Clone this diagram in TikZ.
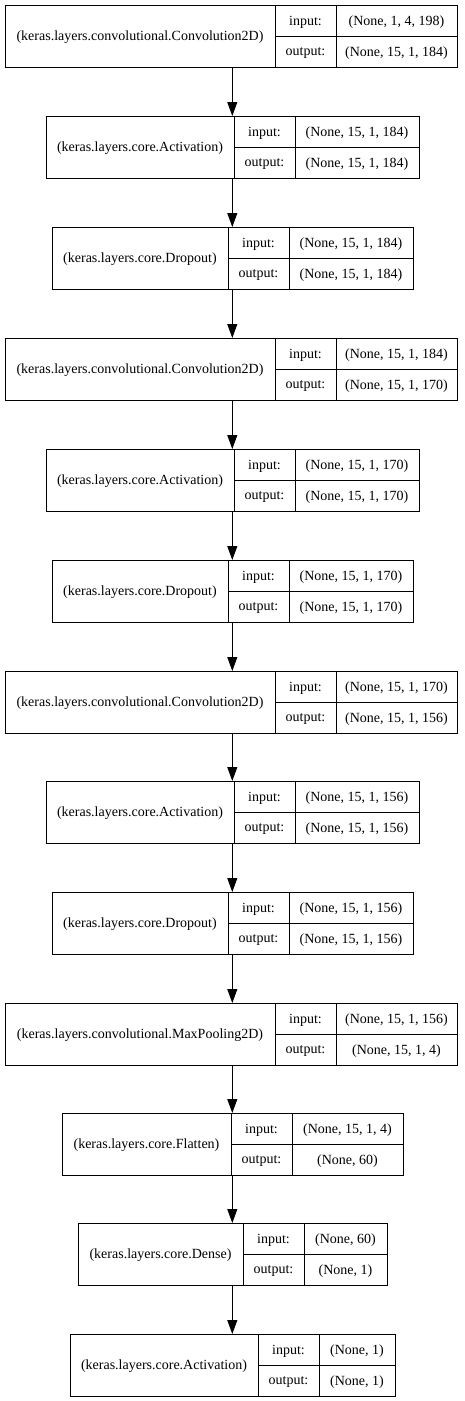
\documentclass[tikz,border=0pt]{standalone}
\usepackage{fontspec}
\setmainfont{Liberation Serif}
\usetikzlibrary{arrows.meta}
\newcommand{\kerasbox}[9]{%
  \node[box, minimum width={#4pt-#3pt}, anchor=north west] (#1) at (#3,#2) {};
  \draw[line] ({#5},{#2}) -- ({#5},{#2+62});
  \draw[line] ({#6},{#2}) -- ({#6},{#2+62});
  \draw[line] ({#5},{#2+31}) -- ({#4},{#2+31});
  \node[txt] (#1-name) at ({(#3+#5)/2},{#2+32.5}) {#7};
  \node[txt] (#1-inl) at ({(#5+#6)/2},{#2+17}) {input:};
  \node[txt] (#1-inv) at ({(#6+#4)/2},{#2+17}) {#8};
  \node[txt] (#1-outl) at ({(#5+#6)/2},{#2+48}) {output:};
  \node[txt] (#1-outv) at ({(#6+#4)/2},{#2+48}) {#9};
}
\begin{document}
\begin{tikzpicture}[x=1pt,y=-1pt,
  box/.style={draw, line width=1pt, minimum height=62pt, inner sep=0pt},
  line/.style={line width=1pt},
  txt/.style={inner sep=0pt, font=\fontsize{14}{16}\selectfont},
  conn/.style={line width=1pt, -{Triangle[length=14pt,width=10pt]}}]
\useasboundingbox (0,0) rectangle (465,1401);
\coordinate (ax) at (232.3,0);
\kerasbox{L1}{5}{5}{457}{275}{336}{(keras.layers.convolutional.Convolution2D)}{(None, 1, 4, 198)}{(None, 15, 1, 184)}
\kerasbox{L2}{116}{46}{419}{234}{295}{(keras.layers.core.Activation)}{(None, 15, 1, 184)}{(None, 15, 1, 184)}
\kerasbox{L3}{227}{52}{413}{228}{289}{(keras.layers.core.Dropout)}{(None, 15, 1, 184)}{(None, 15, 1, 184)}
\kerasbox{L4}{338}{5}{457}{275}{336}{(keras.layers.convolutional.Convolution2D)}{(None, 15, 1, 184)}{(None, 15, 1, 170)}
\kerasbox{L5}{449}{46}{419}{234}{295}{(keras.layers.core.Activation)}{(None, 15, 1, 170)}{(None, 15, 1, 170)}
\kerasbox{L6}{560}{52}{413}{228}{289}{(keras.layers.core.Dropout)}{(None, 15, 1, 170)}{(None, 15, 1, 170)}
\kerasbox{L7}{671}{5}{457}{275}{336}{(keras.layers.convolutional.Convolution2D)}{(None, 15, 1, 170)}{(None, 15, 1, 156)}
\kerasbox{L8}{781}{46}{419}{234}{295}{(keras.layers.core.Activation)}{(None, 15, 1, 156)}{(None, 15, 1, 156)}
\kerasbox{L9}{892}{52}{413}{228}{289}{(keras.layers.core.Dropout)}{(None, 15, 1, 156)}{(None, 15, 1, 156)}
\kerasbox{L10}{1003}{5}{457}{275}{336}{(keras.layers.convolutional.MaxPooling2D)}{(None, 15, 1, 156)}{(None, 15, 1, 4)}
\kerasbox{L11}{1113}{62}{403}{231}{292}{(keras.layers.core.Flatten)}{(None, 15, 1, 4)}{(None, 60)}
\kerasbox{L12}{1223}{78}{387}{243}{304}{(keras.layers.core.Dense)}{(None, 60)}{(None, 1)}
\kerasbox{L13}{1334}{70}{395}{258}{319}{(keras.layers.core.Activation)}{(None, 1)}{(None, 1)}
\foreach \a/\b in {L1/L2,L2/L3,L3/L4,L4/L5,L5/L6,L6/L7,L7/L8,L8/L9,L9/L10,L10/L11,L11/L12,L12/L13}
  \draw[conn] (\a.south -| ax) -- (\b.north -| ax);
\end{tikzpicture}
\end{document}
